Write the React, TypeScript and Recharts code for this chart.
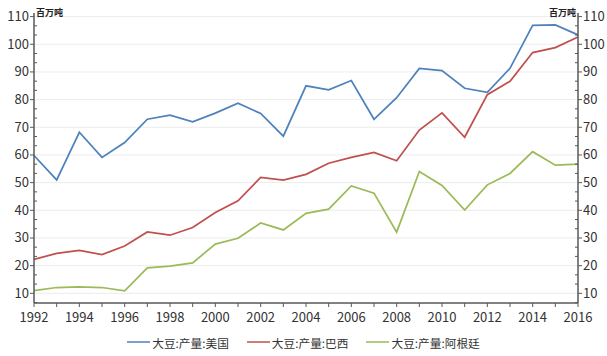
import React from 'react';
import { LineChart, Line, XAxis, YAxis, CartesianGrid, Legend } from 'recharts';

const years = [
  1992, 1993, 1994, 1995, 1996, 1997, 1998, 1999, 2000, 2001, 2002, 2003, 2004,
  2005, 2006, 2007, 2008, 2009, 2010, 2011, 2012, 2013, 2014, 2015, 2016,
];
const usa = [
  59.8, 51.0, 68.2, 59.1, 64.5, 72.9, 74.4, 72.0, 75.1, 78.7, 75.0, 66.8, 85.0,
  83.5, 86.9, 72.9, 80.7, 91.3, 90.5, 84.1, 82.6, 91.3, 106.8, 107.0, 103.4,
];
const brazil = [
  22.3, 24.4, 25.5, 24.0, 27.1, 32.2, 31.0, 33.8, 39.2, 43.4, 51.9, 50.9, 53.0,
  57.0, 59.1, 60.9, 57.9, 69.0, 75.2, 66.4, 81.8, 86.6, 97.0, 98.8, 102.6,
];
const argentina = [
  11.0, 12.1, 12.3, 12.1, 10.9, 19.2, 19.8, 21.0, 27.8, 29.9, 35.4, 32.9, 38.9,
  40.4, 48.8, 46.2, 32.1, 54.0, 49.0, 40.1, 49.2, 53.3, 61.2, 56.3, 56.7,
];
const seriesKeys = ['usa', 'brazil', 'argentina'];
const seriesNames = ['大豆:产量:美国', '大豆:产量:巴西', '大豆:产量:阿根廷'];
const colors = ['#4F81BD', '#C0504D', '#9BBB59'];
const majorTicks = [10, 20, 30, 40, 50, 60, 70, 80, 90, 100, 110];
const unitLabel = '百万吨';

const minorTicks = [6.6667];
majorTicks.forEach((t) => {
  if (t + 3.3333 < 111.3) minorTicks.push(t + 3.3333);
  if (t + 6.6667 < 111.3) minorTicks.push(t + 6.6667);
});
const yTicks = [...majorTicks, ...minorTicks].sort((a, b) => a - b);

const data = years.map((year, i) => ({
  year,
  usa: usa[i],
  brazil: brazil[i],
  argentina: argentina[i],
}));

const FONT = "'Noto Sans CJK SC', 'Noto Sans', sans-serif";
const AXIS = '#595959';

const isMajor = (v: number) => majorTicks.includes(v);

const LeftTick = ({ x, y, payload }: any) => {
  const v = payload.value;
  if (isMajor(v)) {
    return (
      <g>
        <line x1={x - 4} y1={y} x2={x} y2={y} stroke={AXIS} />
        <text x={x - 5} y={y} dy={4.5} textAnchor="end" fontSize={13} fill="#333" fontFamily={FONT}>
          {v}
        </text>
      </g>
    );
  }
  return <line x1={x} y1={y} x2={x + 3} y2={y} stroke={AXIS} />;
};

const RightTick = ({ x, y, payload }: any) => {
  const v = payload.value;
  if (isMajor(v)) {
    return (
      <g>
        <line x1={x} y1={y} x2={x + 4} y2={y} stroke={AXIS} />
        <text x={x + 5} y={y} dy={4.5} textAnchor="start" fontSize={13} fill="#333" fontFamily={FONT}>
          {v}
        </text>
      </g>
    );
  }
  return <line x1={x - 3} y1={y} x2={x} y2={y} stroke={AXIS} />;
};

const YearTick = ({ x, y, payload }: any) => {
  const v = payload.value;
  return (
    <g>
      <line x1={x} y1={y} x2={x} y2={y + 4} stroke={AXIS} />
      {v % 2 === 0 && (
        <text x={x} y={y + 19} textAnchor="middle" fontSize={13} fill="#333" fontFamily={FONT}>
          {v}
        </text>
      )}
    </g>
  );
};

// legend keeps the series order (recharts sorts payload by name otherwise)
const renderLegend = () => (
  <div style={{ display: 'flex', justifyContent: 'center', height: 20, alignItems: 'center' }}>
    {seriesNames.map((name, i) => (
      <div key={name} style={{ display: 'flex', alignItems: 'center', marginRight: i < 2 ? 18 : 0 }}>
        <svg width={23} height={4} style={{ marginRight: 2 }}>
          <line x1={0} y1={2} x2={23} y2={2} stroke={colors[i]} strokeWidth={1.5} />
        </svg>
        <span style={{ fontSize: 11.7, color: '#333', fontFamily: FONT }}>{name}</span>
      </div>
    ))}
  </div>
);

export default function App() {
  return (
    <div style={{ position: 'fixed', left: 0, top: 0, background: '#fff' }}>
      <LineChart width={607} height={356} data={data} margin={{ top: 13, right: 0, bottom: 4, left: 0 }}>
        <CartesianGrid
          yAxisId="left"
          vertical={false}
          horizontalValues={majorTicks}
          stroke="#ececec"
        />
        <XAxis
          dataKey="year"
          type="number"
          domain={[1992, 2016]}
          ticks={years}
          interval={0}
          height={29}
          tickSize={0}
          tickMargin={0}
          tick={<YearTick />}
          axisLine={{ stroke: AXIS, strokeWidth: 1.5 }}
          tickLine={false}
        />
        <YAxis
          yAxisId="left"
          orientation="left"
          width={34}
          type="number"
          domain={[6.5, 111.3]}
          ticks={yTicks}
          interval={0}
          allowDataOverflow
          tickSize={0}
          tickMargin={0}
          tick={<LeftTick />}
          axisLine={{ stroke: AXIS, strokeWidth: 1.5 }}
          tickLine={false}
          label={{
            content: ({ viewBox }: any) => (
              <text x={viewBox.x + viewBox.width + 2} y={viewBox.y + 3} fontSize={9} fontWeight="bold" fill="#222" fontFamily={FONT}>
                {unitLabel}
              </text>
            ),
          }}
        />
        <YAxis
          yAxisId="right"
          orientation="right"
          width={29}
          type="number"
          domain={[6.5, 111.3]}
          ticks={yTicks}
          interval={0}
          allowDataOverflow
          tickSize={0}
          tickMargin={0}
          tick={<RightTick />}
          axisLine={{ stroke: AXIS, strokeWidth: 1.5 }}
          tickLine={false}
          label={{
            content: ({ viewBox }: any) => (
              <text x={viewBox.x - 2} y={viewBox.y + 3} textAnchor="end" fontSize={9} fontWeight="bold" fill="#222" fontFamily={FONT}>
                {unitLabel}
              </text>
            ),
          }}
        />
        <Legend verticalAlign="bottom" content={renderLegend} />
        {seriesKeys.map((key, i) => (
          <Line
            key={key}
            yAxisId="left"
            dataKey={key}
            name={seriesNames[i]}
            stroke={colors[i]}
            strokeWidth={1.75}
            dot={false}
            isAnimationActive={false}
          />
        ))}
      </LineChart>
    </div>
  );
}
